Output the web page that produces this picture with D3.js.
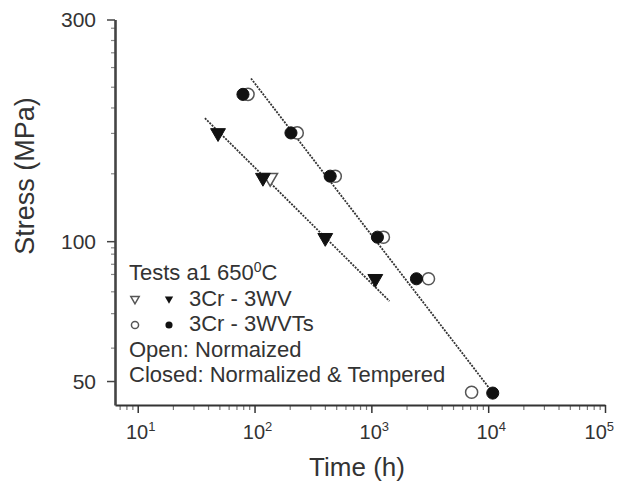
<!DOCTYPE html>
<html><head><meta charset="utf-8">
<script src="https://cdn.jsdelivr.net/npm/d3@7"></script>
<style>body{margin:0;background:#fff}text{font-family:"Liberation Sans",Arial,sans-serif;fill:#333}</style>
</head><body><svg id="c" width="617" height="484"></svg>
<script>
// ---- data ----
const xMajorTicks = [10, 100, 1000, 10000, 100000];
const xMajorExp = ["1", "2", "3", "4", "5"];
const yMajorTicks = [50, 100, 300];
const yMinorTicks = [59, 70, 78, 85, 89.4, 94, 97, 140, 171, 194, 215, 237, 255, 271, 288];
const wvClosedT = [48.7, 118, 403, 1081];
const wvClosedS = [171, 137, 101.7, 83];
const wvOpenT = [136];
const wvOpenS = [137];
const wvtsClosedT = [79.6, 205, 444, 1127, 2432, 10940];
const wvtsClosedS = [207, 171, 138, 102, 83, 47.1];
const wvtsOpenT = [88, 232, 491, 1268, 3083, 7215];
const wvtsOpenS = [207, 171, 138, 102, 83, 47.3];
const fitWVT = [37.6, 1429];
const fitWVS = [184, 74.3];
const fitWVTsT = [93.3, 11150];
const fitWVTsS = [224, 46.9];
const legendLines = ["3Cr - 3WV", "3Cr - 3WVTs", "Open: Normaized", "Closed: Normalized & Tempered"];

const svg = d3.select("#c");
const x = d3.scaleLog().domain([6.39, 100000]).range([115, 605]);
const y = d3.scaleLog().domain([44.4, 300]).range([405, 19.5]);

// x minor ticks
const xMinor = [];
for (let d = 1; d <= 10000; d *= 10) for (let k = 2; k <= 9; k++) { const v = d * k; if (v > 6.39 && v < 100000) xMinor.push(v); }
svg.append("g").attr("transform", "translate(0,405)")
  .call(d3.axisBottom(x).tickValues(xMinor).tickFormat("").tickSize(5).tickSizeOuter(0))
  .call(g => { g.select(".domain").remove(); g.selectAll("line").attr("stroke", "#777").attr("stroke-width", 1.2); });
svg.append("g").attr("transform", "translate(0,405)")
  .call(d3.axisBottom(x).tickValues(xMajorTicks).tickFormat("").tickSize(8).tickSizeOuter(0))
  .call(g => { g.select(".domain").attr("stroke", "#333").attr("stroke-width", 2.2); g.selectAll("line").attr("stroke", "#333").attr("stroke-width", 1.5); });

// y axis
svg.append("g").attr("transform", "translate(115,0)")
  .call(d3.axisLeft(y).tickValues(yMinorTicks).tickFormat("").tickSize(4).tickSizeOuter(0))
  .call(g => { g.select(".domain").remove(); g.selectAll("line").attr("stroke", "#888").attr("stroke-width", 1.2); });
svg.append("g").attr("transform", "translate(115,0)")
  .call(d3.axisLeft(y).tickValues(yMajorTicks).tickFormat("").tickSize(8).tickSizeOuter(0))
  .call(g => { g.select(".domain").attr("stroke", "#444").attr("stroke-width", 2.6); g.selectAll("line").attr("stroke", "#444").attr("stroke-width", 1.5); });

// x tick labels
xMajorTicks.forEach((v, i) => {
  const last = i === xMajorTicks.length - 1;
  const t = svg.append("text").attr("x", last ? 614 : x(v) + 3).attr("y", 439)
    .attr("text-anchor", last ? "end" : "middle").attr("font-size", 20);
  t.append("tspan").text("10");
  t.append("tspan").attr("font-size", 13).attr("dy", -8).text(xMajorExp[i]);
});
// y tick labels
yMajorTicks.forEach(v => {
  svg.append("text").attr("x", 96).attr("y", y(v)).attr("dy", "0.36em").attr("text-anchor", "end").attr("font-size", 21).text(v);
});

// axis titles
svg.append("text").attr("x", 357).attr("y", 476).attr("text-anchor", "middle").attr("font-size", 26).text("Time (h)");
svg.append("text").attr("transform", "translate(34,176) rotate(-90)").attr("text-anchor", "middle").attr("font-size", 27).text("Stress (MPa)");

// fitted lines
const line = d3.line().x(d => x(d[0])).y(d => y(d[1]));
[[fitWVT, fitWVS], [fitWVTsT, fitWVTsS]].forEach(([ts, ss]) => {
  svg.append("path").attr("d", line(ts.map((t, i) => [t, ss[i]])))
    .attr("fill", "none").attr("stroke", "#333").attr("stroke-width", 1.8).attr("stroke-dasharray", "2,1.2");
});

// markers
const tri = d3.symbol().type(d3.symbolTriangle).size(95);
const circ = d3.symbol().type(d3.symbolCircle).size(115);
function pts(ts, ss, sym, open, rot) {
  svg.append("g").selectAll("path").data(ts.map((t, i) => [t, ss[i]])).join("path")
    .attr("d", sym)
    .attr("transform", d => `translate(${x(d[0])},${y(d[1])})` + (rot ? " rotate(180)" : ""))
    .attr("fill", open ? "#fff" : "#111").attr("stroke", open ? "#555" : "#111").attr("stroke-width", open ? 1.5 : 1);
}
pts(wvtsOpenT, wvtsOpenS, circ, true, false);
pts(wvtsClosedT, wvtsClosedS, circ, false, false);
pts(wvOpenT, wvOpenS, tri, true, true);
pts(wvClosedT, wvClosedS, tri, false, true);

// legend
svg.append("text").attr("x", 129).attr("y", 280).attr("font-size", 22)
  .call(t => { t.append("tspan").text("Tests a1 650"); t.append("tspan").attr("font-size", 14).attr("dy", -8).text("0"); t.append("tspan").attr("dy", 8).text("C"); });
const legY = [306, 331, 357, 382];
legendLines.forEach((s, i) => {
  svg.append("text").attr("x", i < 2 ? 189 : 129).attr("y", legY[i]).attr("font-size", 22).text(s);
});
const lt = d3.symbol().type(d3.symbolTriangle).size(30);
const lc = d3.symbol().type(d3.symbolCircle).size(40);
svg.append("path").attr("d", lt).attr("transform", "translate(135,299) rotate(180)").attr("fill", "#fff").attr("stroke", "#555").attr("stroke-width", 1.5);
svg.append("path").attr("d", lt).attr("transform", "translate(169,299) rotate(180)").attr("fill", "#111");
svg.append("path").attr("d", lc).attr("transform", "translate(135,325)").attr("fill", "#fff").attr("stroke", "#555").attr("stroke-width", 1.5);
svg.append("path").attr("d", lc).attr("transform", "translate(169,325)").attr("fill", "#111");
</script></body></html>
